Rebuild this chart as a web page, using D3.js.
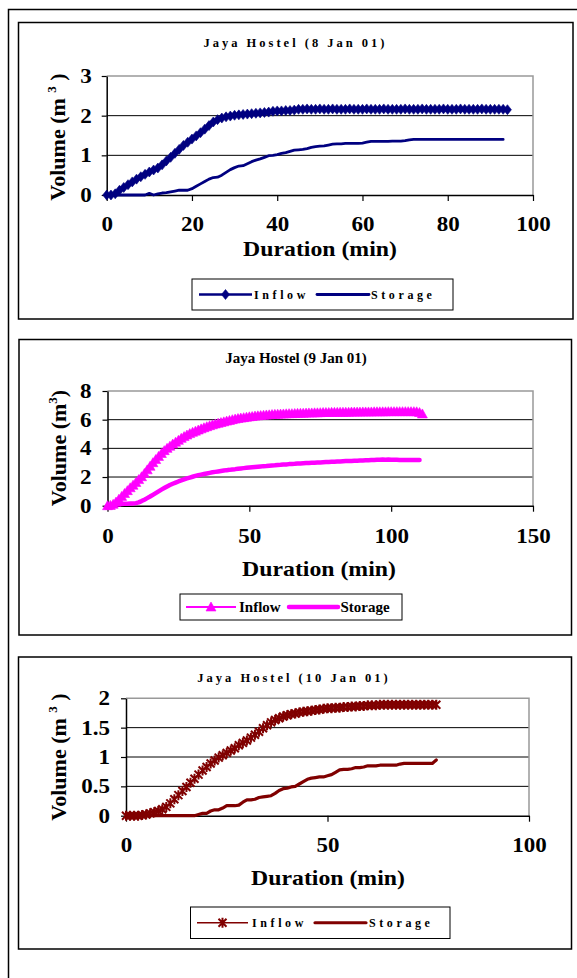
<!DOCTYPE html>
<html>
<head>
<meta charset="utf-8">
<script src="https://cdn.jsdelivr.net/npm/d3@7"></script>
<style>
  html, body { margin: 0; padding: 0; background: #fff; }
  svg { display: block; }
  text { font-family: "Liberation Serif", "Times New Roman", serif; font-weight: bold; }
</style>
</head>
<body>
<div id="chart"></div>
<script>
// ===== Data (volume in m3, one reading per minute from t = 0) =====
const inflow8 = [
  0.00,0.00,0.03,0.12,0.19,0.26,0.33,0.40,0.46,0.52,
  0.58,0.63,0.68,0.76,0.86,0.95,1.05,1.15,1.25,1.33,
  1.41,1.49,1.57,1.66,1.75,1.84,1.90,1.94,1.97,1.99,
  2.01,2.02,2.03,2.04,2.05,2.06,2.07,2.08,2.09,2.11,
  2.12,2.12,2.13,2.13,2.14,2.16,2.16,2.17,2.16,2.16,
  2.17,2.16,2.16,2.17,2.16,2.16,2.16,2.17,2.16,2.16,
  2.16,2.17,2.16,2.16,2.16,2.17,2.16,2.16,2.16,2.16,
  2.17,2.16,2.16,2.16,2.17,2.16,2.16,2.16,2.16,2.17,
  2.16,2.16,2.16,2.17,2.16,2.16,2.16,2.16,2.17,2.16,
  2.16,2.16,2.16,2.16,2.15
];
const storage8 = [
  0,0,0,0,0,0,0,0,0,0,
  0.04,0,0.03,0.05,0.06,0.08,0.10,0.12,0.12,0.12,
  0.16,0.22,0.28,0.34,0.40,0.44,0.45,0.50,0.57,0.64,
  0.69,0.73,0.74,0.79,0.84,0.88,0.91,0.95,0.99,1.00,
  1.02,1.05,1.07,1.10,1.13,1.14,1.15,1.17,1.20,1.22,
  1.23,1.24,1.26,1.28,1.29,1.29,1.30,1.30,1.30,1.30,
  1.31,1.33,1.35,1.35,1.35,1.35,1.35,1.36,1.36,1.36,
  1.37,1.39,1.40,1.40,1.40,1.40,1.40,1.40,1.40,1.40,
  1.40,1.40,1.40,1.40,1.40,1.40,1.40,1.40,1.40,1.40,
  1.40,1.40,1.40,1.40
];
const inflow9 = [
  0.00,0.02,0.10,0.25,0.45,0.65,0.85,1.05,1.25,1.43,
  1.62,1.82,2.02,2.25,2.50,2.75,3.00,3.22,3.44,3.64,
  3.84,4.00,4.15,4.30,4.43,4.56,4.70,4.82,4.93,5.03,
  5.12,5.20,5.28,5.36,5.44,5.51,5.58,5.64,5.70,5.75,
  5.80,5.85,5.90,5.95,6.00,6.04,6.08,6.11,6.14,6.17,
  6.20,6.22,6.25,6.27,6.29,6.31,6.33,6.34,6.36,6.37,
  6.38,6.39,6.40,6.41,6.42,6.42,6.43,6.44,6.45,6.45,
  6.46,6.47,6.47,6.48,6.48,6.49,6.50,6.50,6.50,6.51,
  6.51,6.51,6.52,6.52,6.52,6.52,6.53,6.53,6.53,6.53,
  6.54,6.54,6.54,6.54,6.55,6.55,6.55,6.55,6.55,6.56,
  6.56,6.56,6.56,6.56,6.56,6.56,6.56,6.56,6.56,6.55,
  6.50,6.40
];
const storage9 = [
  0.00,0.02,0.05,0.08,0.10,0.12,0.13,0.14,0.15,0.16,
  0.18,0.23,0.32,0.42,0.53,0.64,0.76,0.88,1.00,1.12,
  1.23,1.34,1.44,1.53,1.61,1.69,1.76,1.83,1.90,1.96,
  2.02,2.08,2.13,2.17,2.21,2.25,2.29,2.33,2.36,2.39,
  2.42,2.45,2.48,2.50,2.53,2.55,2.58,2.60,2.62,2.64,
  2.66,2.68,2.70,2.72,2.74,2.76,2.77,2.79,2.81,2.82,
  2.84,2.85,2.87,2.88,2.90,2.91,2.92,2.94,2.95,2.96,
  2.97,2.98,2.99,3.00,3.01,3.02,3.03,3.04,3.05,3.06,
  3.07,3.08,3.09,3.10,3.11,3.11,3.12,3.13,3.14,3.15,
  3.16,3.17,3.17,3.18,3.19,3.20,3.21,3.22,3.21,3.22,
  3.21,3.20,3.20,3.19,3.19,3.19,3.18,3.18,3.18,3.18,
  3.18
];
const inflow10 = [
  0,0,0,0,0.01,0.02,0.04,0.06,0.08,0.11,
  0.15,0.21,0.28,0.35,0.42,0.49,0.56,0.63,0.70,0.77,
  0.83,0.89,0.94,0.99,1.03,1.07,1.11,1.15,1.20,1.24,
  1.28,1.33,1.38,1.43,1.49,1.54,1.59,1.63,1.66,1.69,
  1.71,1.73,1.74,1.76,1.77,1.78,1.79,1.80,1.81,1.82,
  1.83,1.83,1.84,1.84,1.85,1.85,1.86,1.86,1.87,1.87,
  1.88,1.88,1.88,1.89,1.89,1.89,1.89,1.89,1.89,1.89,
  1.89,1.89,1.89,1.89,1.89,1.89,1.89,1.89
];
const storage10 = [
  0,0,0,0,0,0,0,0,0,0,
  0,0,0,0,0,0,0,0,0.02,0.04,
  0.04,0.08,0.10,0.10,0.13,0.17,0.17,0.17,0.18,0.23,
  0.27,0.27,0.28,0.31,0.32,0.33,0.34,0.38,0.43,0.46,
  0.47,0.49,0.50,0.54,0.58,0.62,0.64,0.65,0.66,0.66,
  0.68,0.70,0.74,0.78,0.79,0.79,0.80,0.82,0.82,0.83,
  0.85,0.85,0.85,0.86,0.86,0.86,0.86,0.86,0.88,0.89,
  0.89,0.89,0.89,0.89,0.89,0.89,0.89,0.95
];

const titles = ["Jaya Hostel (8 Jan 01)", "Jaya Hostel (9 Jan 01)", "Jaya Hostel (10 Jan 01)"];
const xTicks8 = [0, 20, 40, 60, 80, 100];
const yTicks8 = [0, 1, 2, 3];
const xTicks9 = [0, 50, 100, 150];
const yTicks9 = [0, 2, 4, 6, 8];
const xTicks10 = [0, 50, 100];
const yTicks10 = [0, 0.5, 1, 1.5, 2];
const seriesNames = ["Inflow", "Storage"];

// ===== Layout =====
const W = 577, H = 978;
const svg = d3.select("#chart").append("svg").attr("width", W).attr("height", H);
svg.append("rect").attr("width", W).attr("height", H).attr("fill", "#fff");

// khung trang (chỉ thấy cạnh trái và cạnh trên)
svg.append("path")
  .attr("d", `M8.5,${H} V9.5 H${W}`)
  .attr("fill", "none").attr("stroke", "#000").attr("stroke-width", 1.5);

const markers = {
  diamond: "M0,-5L4,0L0,5L-4,0Z",
  triangle: "M0,-5L5,4L-5,4Z",
  star: "M-4,-4L4,4M-4,4L4,-4M0,-5L0,5"
};

const panels = [
  {
    title: titles[0], spaced: true, color: "#000080",
    box: [18.5, 22.5, 573, 319], plot: [106.7, 76, 533, 195],
    x: [0, 100], y: [0, 3], xTicks: xTicks8, yTicks: yTicks8,
    inflow: inflow8, storage: storage8,
    marker: "diamond", markerFill: true, inflowW: 2.5, storageW: 2.8,
    titleX: 295.5, titleY: 43, titleSize: 12.5, xPad: 16, yPad: 10,
    xTitle: [320, 248.5], yTitle: [57, 137], supGap: true,
    legend: { box: [192, 279, 453, 310], l1: [199, 252], t1: 254, l2: [317, 369], t2: 371, size: 12 }
  },
  {
    title: titles[1], spaced: false, color: "#FF00FF",
    box: [19, 339.5, 571.5, 635], plot: [107.5, 391, 533, 505.7],
    x: [0, 150], y: [0, 8], xTicks: xTicks9, yTicks: yTicks9,
    inflow: inflow9, storage: storage9,
    marker: "triangle", markerFill: true, inflowW: 2, storageW: 4.5,
    titleX: 296, titleY: 358, titleSize: 15, xPad: 17.5, yPad: 11,
    xTitle: [319, 568], yTitle: [58, 448], supGap: false,
    legend: { box: [180, 594, 402, 620], l1: [186, 236], t1: 239, l2: [289, 338], t2: 340.5, size: 15 }
  },
  {
    title: titles[2], spaced: true, color: "#800000",
    box: [18.5, 657, 571.5, 949], plot: [126, 698.3, 529, 815.7],
    x: [0, 100], y: [0, 2], xTicks: xTicks10, yTicks: yTicks10,
    inflow: inflow10, storage: storage10,
    marker: "star", markerFill: false, inflowW: 1.5, storageW: 3.2,
    titleX: 294, titleY: 678, titleSize: 12.5, xPad: 16, yPad: 11,
    xTitle: [328, 877], yTitle: [58, 757], supGap: true,
    legend: { box: [190.5, 907, 450, 938.5], l1: [197, 248], t1: 252, l2: [315, 366], t2: 369, size: 12 }
  }
];

// kéo giãn chữ theo chiều ngang như bản gốc
function stretch(sel, k) {
  sel.each(function () {
    const w = this.getComputedTextLength();
    d3.select(this).attr("textLength", w * k).attr("lengthAdjust", "spacingAndGlyphs");
  });
}

function drawMarker(g, kind, fill, color, cx, cy) {
  const m = g.append("path")
    .attr("d", markers[kind])
    .attr("transform", `translate(${cx},${cy})`);
  if (fill) m.attr("fill", color).attr("stroke", color).attr("stroke-width", 0.6);
  else m.attr("fill", "none").attr("stroke", color).attr("stroke-width", 2);
}

function drawPanel(p) {
  const g = svg.append("g");

  // khung panel
  g.append("rect")
    .attr("x", p.box[0]).attr("y", p.box[1])
    .attr("width", p.box[2] - p.box[0]).attr("height", p.box[3] - p.box[1])
    .attr("fill", "#fff").attr("stroke", "#000").attr("stroke-width", 1.5);

  const x = d3.scaleLinear().domain(p.x).range([p.plot[0], p.plot[2]]);
  const y = d3.scaleLinear().domain(p.y).range([p.plot[3], p.plot[1]]);

  // tiêu đề
  g.append("text")
    .attr("x", p.titleX).attr("y", p.titleY)
    .attr("dy", "0.35em")
    .attr("text-anchor", "middle")
    .style("font-size", p.titleSize + "px")
    .style("letter-spacing", p.spaced ? "3px" : "0px")
    .text(p.title);

  // lưới ngang
  g.append("g")
    .selectAll("line")
    .data(p.yTicks.slice(1, -1))
    .join("line")
      .attr("x1", p.plot[0]).attr("x2", p.plot[2])
      .attr("y1", d => y(d)).attr("y2", d => y(d))
      .attr("stroke", "#000").attr("stroke-width", 1);

  // viền vùng vẽ (xám, trên + phải)
  g.append("path")
    .attr("d", `M${p.plot[0]},${p.plot[1]} H${p.plot[2]} V${p.plot[3]}`)
    .attr("fill", "none").attr("stroke", "#999").attr("stroke-width", 1.5);

  // trục
  const fmt = d3.format("~g");
  const xAxis = g.append("g")
    .attr("transform", `translate(0,${p.plot[3]})`)
    .call(d3.axisBottom(x).tickValues(p.xTicks).tickFormat(fmt)
      .tickSize(6).tickSizeOuter(0).tickPadding(p.xPad));
  const yAxis = g.append("g")
    .attr("transform", `translate(${p.plot[0]},0)`)
    .call(d3.axisLeft(y).tickValues(p.yTicks).tickFormat(fmt)
      .tickSize(5).tickSizeOuter(0).tickPadding(p.yPad));
  [xAxis, yAxis].forEach(a => {
    a.select(".domain").attr("stroke", "#000").attr("stroke-width", 1.5);
    a.selectAll(".tick line").attr("stroke", "#000").attr("stroke-width", 1.2);
    a.selectAll(".tick text")
      .attr("fill", "#000")
      .style("font-family", '"Liberation Serif", "Times New Roman", serif')
      .style("font-weight", "bold")
      .style("font-size", "20px")
      .call(stretch, 1.15);
  });

  // chuỗi số liệu
  const line = d3.line().x(d => x(d[0])).y(d => y(d[1]));
  const inflowPts = p.inflow.map((v, i) => [i, v]);
  const storagePts = p.storage.map((v, i) => [i, v]);

  g.append("path")
    .datum(storagePts)
    .attr("d", line)
    .attr("fill", "none").attr("stroke", p.color)
    .attr("stroke-width", p.storageW)
    .attr("stroke-linejoin", "round").attr("stroke-linecap", "round");

  g.append("path")
    .datum(inflowPts)
    .attr("d", line)
    .attr("fill", "none").attr("stroke", p.color)
    .attr("stroke-width", p.inflowW)
    .attr("stroke-linejoin", "round");

  const mg = g.append("g");
  inflowPts.forEach(d => drawMarker(mg, p.marker, p.markerFill, p.color, x(d[0]), y(d[1])));

  // tên trục
  g.append("text")
    .attr("x", p.xTitle[0]).attr("y", p.xTitle[1])
    .attr("dy", "0.35em")
    .attr("text-anchor", "middle")
    .style("font-size", "22px")
    .text("Duration (min)")
    .call(stretch, 1.08);

  const yt = g.append("text")
    .attr("transform", `translate(${p.yTitle[0]},${p.yTitle[1]}) rotate(-90)`)
    .attr("dy", "0.35em")
    .attr("text-anchor", "middle")
    .style("font-size", "22px");
  yt.append("tspan").text(p.supGap ? "Volume (m " : "Volume (m");
  yt.append("tspan").attr("dy", -9).style("font-size", "13px").text("3");
  yt.append("tspan").attr("dy", 9).text(p.supGap ? " )" : ")");

  // chú giải
  const L = p.legend;
  const cy = (L.box[1] + L.box[3]) / 2;
  g.append("rect")
    .attr("x", L.box[0]).attr("y", L.box[1])
    .attr("width", L.box[2] - L.box[0]).attr("height", L.box[3] - L.box[1])
    .attr("fill", "#fff").attr("stroke", "#000").attr("stroke-width", 1);
  g.append("line")
    .attr("x1", L.l1[0]).attr("x2", L.l1[1]).attr("y1", cy).attr("y2", cy)
    .attr("stroke", p.color).attr("stroke-width", p.inflowW);
  drawMarker(g, p.marker, p.markerFill, p.color, (L.l1[0] + L.l1[1]) / 2, cy);
  g.append("line")
    .attr("x1", L.l2[0]).attr("x2", L.l2[1]).attr("y1", cy).attr("y2", cy)
    .attr("stroke", p.color).attr("stroke-width", p.storageW).attr("stroke-linecap", "round");
  [[seriesNames[0], L.t1], [seriesNames[1], L.t2]].forEach(([name, tx]) => {
    g.append("text")
      .attr("x", tx).attr("y", cy)
      .attr("dy", "0.35em")
      .style("font-size", L.size + "px")
      .style("letter-spacing", p.spaced ? "3.6px" : "0px")
      .text(name);
  });
}

panels.forEach(drawPanel);
</script>
</body>
</html>
